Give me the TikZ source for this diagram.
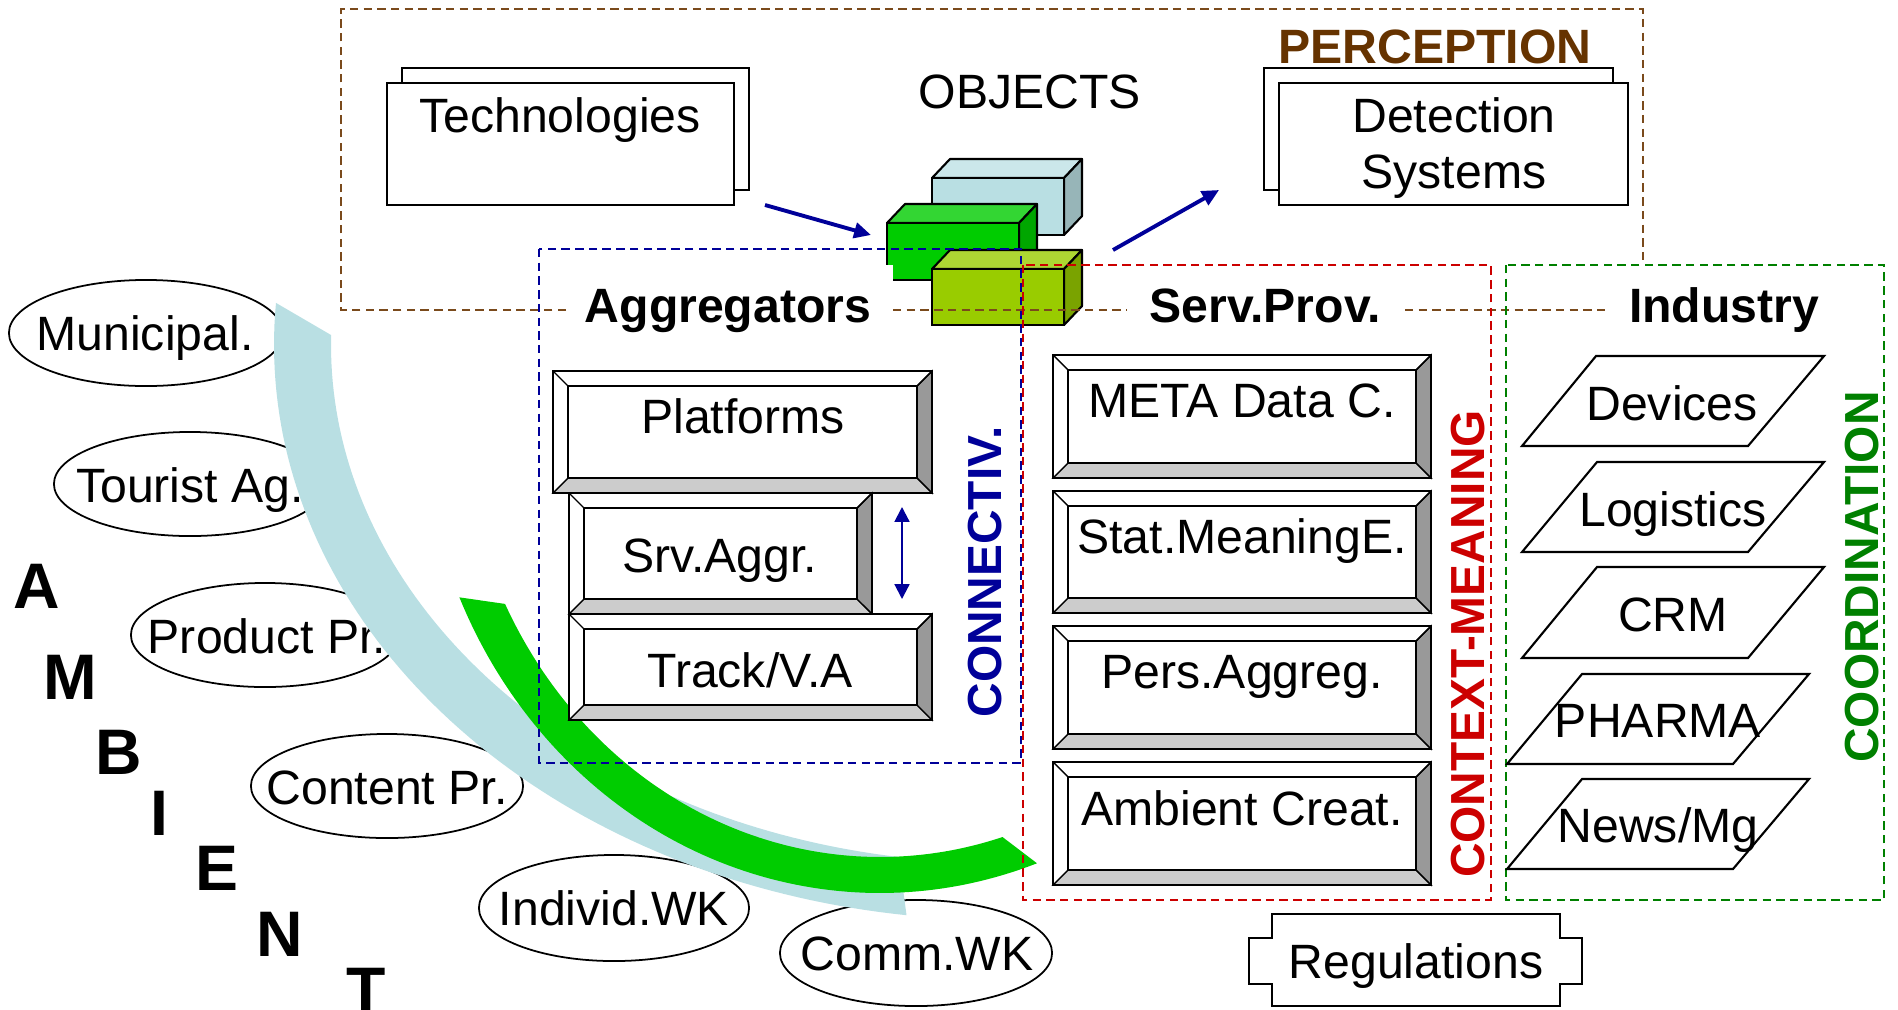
\documentclass[tikz,border=0pt]{standalone}
\usepackage{fontspec}
\setmainfont{Liberation Sans}
\usetikzlibrary{arrows.meta,shapes.geometric}
\definecolor{navy}{HTML}{000099}
\definecolor{brownc}{HTML}{663300}
\definecolor{brownd}{HTML}{7A4A1C}
\definecolor{redc}{HTML}{CC0000}
\definecolor{greenc}{HTML}{008000}
\definecolor{lblue}{HTML}{B9DFE3}
\definecolor{lbluetop}{HTML}{CBE7EA}
\definecolor{lblueside}{HTML}{97B5B8}
\definecolor{dgreen}{HTML}{00CC00}
\definecolor{dgreentop}{HTML}{33D633}
\definecolor{dgreenside}{HTML}{00A600}
\definecolor{lgreen}{HTML}{99CC00}
\definecolor{lgreentop}{HTML}{ADD633}
\definecolor{lgreenside}{HTML}{7AA300}
\definecolor{bevlight}{HTML}{CCCCCC}
\definecolor{bevdark}{HTML}{999999}

\newcommand\bevbox[4]{%
  \fill[white] (#1,#2) rectangle (#3,#4);
  \filldraw[fill=bevlight, line width=0.4pt] (#1,#4) -- (#3,#4) -- ({#3-15},{#4-15}) -- ({#1+15},{#4-15}) -- cycle;
  \filldraw[fill=bevdark, line width=0.4pt] (#3,#2) -- (#3,#4) -- ({#3-15},{#4-15}) -- ({#3-15},{#2+15}) -- cycle;
  \draw[line width=0.4pt] (#1,#2) -- ({#1+15},{#2+15}) (#3,#2) -- ({#3-15},{#2+15});
  \draw[line width=0.7pt] ({#1+15},{#2+15}) rectangle ({#3-15},{#4-15});
  \draw[line width=0.7pt] (#1,#2) rectangle (#3,#4);
}
\newcommand\cubebox[7]{%
  \filldraw[fill=#6, line width=0.6pt, line join=round] (#1,#2) -- ({#1+18},{#2-19}) -- ({#3+18},{#2-19}) -- (#3,#2) -- cycle;
  \filldraw[fill=#7, line width=0.6pt, line join=round] (#3,#2) -- ({#3+18},{#2-19}) -- ({#3+18},{#4-19}) -- (#3,#4) -- cycle;
  \filldraw[fill=#5, line width=0.6pt] (#1,#2) rectangle (#3,#4);
}

\tikzset{
  txt/.style={anchor=base, inner sep=0pt, font=\fontsize{13.7}{16}\selectfont},
  btxt/.style={anchor=base, inner sep=0pt, font=\fontsize{13.7}{16}\selectfont\bfseries},
  vtxt/.style={rotate=90, inner sep=0pt, font=\fontsize{13.6}{16}\selectfont\bfseries},
  bigl/.style={anchor=base, inner sep=0pt, font=\fontsize{18.3}{20}\selectfont\bfseries},
  ell/.style={draw, ellipse, inner sep=0pt, line width=0.5pt, fill=white},
  dbox/.style={dash pattern=on 2.4pt off 1.5pt, line width=0.6pt},
  arr/.style={navy, line width=1.1pt, -{Triangle[length=4.8pt,width=4.4pt]}},
  darr/.style={navy, line width=0.6pt, {Triangle[length=4.2pt,width=4.2pt]}-{Triangle[length=4.2pt,width=4.2pt]}},
  para/.style={line width=0.6pt, fill=white},
}

\begin{document}
\begin{tikzpicture}[x=0.01cm, y=-0.01cm]
\useasboundingbox (0,0) rectangle (1898,1009);

% ---------- ellipses (stakeholders) ----------
\node[ell, minimum width=2.74cm, minimum height=1.06cm] (mun) at (146,333) {};
\node[ell, minimum width=2.72cm, minimum height=1.04cm] (tou) at (190,484) {};
\node[ell, minimum width=2.68cm, minimum height=1.04cm] (pro) at (265,635) {};
\node[ell, minimum width=2.72cm, minimum height=1.04cm] (con) at (387,786) {};
\node[ell, minimum width=2.70cm, minimum height=1.06cm] (ind) at (614,908) {};
\node[ell, minimum width=2.72cm, minimum height=1.06cm] (com) at (916,953) {};
\node[txt] (munt) at (145,350) {Municipal.};
\node[txt] (tout) at (190,502) {Tourist Ag.};
\node[txt] (prot) at (267,653) {Product Pr.};
\node[txt] (cont) at (387,804) {Content Pr.};
\node[txt] (indt) at (614,925) {Individ.WK};
\node[txt] (comt) at (917,970) {Comm.WK};

% ---------- curved bands ----------
\fill[lblue] plot[domain=184.2:97.4, samples=80] ({1000+726*cos(\x)},{345+575*sin(\x)})
  -- plot[domain=98.7:181.1, samples=80] ({1000+669*cos(\x)},{345+518*sin(\x)}) -- cycle;
\fill[dgreen] plot[domain=156.4:70, samples=80] ({880+459*cos(\x)},{400+493*sin(\x)})
  -- plot[domain=73:153.5, samples=80] ({880+419*cos(\x)},{400+457*sin(\x)}) -- cycle;

% ---------- objects (cubes) ----------
\cubebox{932}{178}{1064}{235}{lblue}{lbluetop}{lblueside}
\cubebox{887}{223}{1019}{280}{dgreen}{dgreentop}{dgreenside}
\fill[white] (886,265) rectangle (893,281);
\cubebox{932}{269}{1064}{325}{lgreen}{lgreentop}{lgreenside}

% ---------- double boxes ----------
\draw[fill=white, line width=0.5pt] (402,68) rectangle (749,190);
\node[draw, fill=white, line width=0.7pt, inner sep=0pt, minimum width=3.47cm, minimum height=1.22cm] (tech) at (560.5,144) {};
\node[txt] (techt) at (560,132) {Technologies};
\draw[fill=white, line width=0.5pt] (1264,68) rectangle (1613,190);
\node[draw, fill=white, line width=0.7pt, inner sep=0pt, minimum width=3.49cm, minimum height=1.22cm] (det) at (1453.5,144) {};
\node[txt] (dett1) at (1454,132) {Detection};
\node[txt] (dett2) at (1454,188) {Systems};

% ---------- bevel boxes ----------
\bevbox{553}{371}{932}{493}
\node[txt] (plat) at (743,433) {Platforms};
\bevbox{569}{493}{872}{614}
\node[txt] (srv) at (720,572) {Srv.Aggr.};
\bevbox{569}{614}{932}{720}
\node[txt] (trk) at (750,687) {Track/V.A};

\bevbox{1053}{355}{1431}{478}
\node[txt] (meta) at (1242,417) {META Data C.};
\bevbox{1053}{491}{1431}{613}
\node[txt] (stat) at (1242,553) {Stat.MeaningE.};
\bevbox{1053}{626}{1431}{749}
\node[txt] (pers) at (1242,688) {Pers.Aggreg.};
\bevbox{1053}{762}{1431}{885}
\node[txt] (amb) at (1242,825) {Ambient Creat.};

% ---------- dashed regions ----------
\draw[dbox, brownd, line width=0.7pt] (566,310) -- (341,310) -- (341,9) -- (1643,9) -- (1643,262)
  (893,310) -- (1127,310) (1405,310) -- (1610,310);
\draw[dbox, navy] (539,249) rectangle (1021,763);
\draw[dbox, redc] (1023,265) rectangle (1491,900);
\draw[dbox, greenc] (1506,265) rectangle (1884,900);

% ---------- headings ----------
\node[txt] (obj) at (1030,108) {OBJECTS};
\node[btxt, text=brownc] (perc) at (1435,63) {PERCEPTION};
\node[btxt] (aggr) at (728,322) {Aggregators};
\node[btxt] (serv) at (1265,322) {Serv.Prov.};
\node[btxt] (indu) at (1724,322) {Industry};

\node[vtxt, text=navy] (conn) at (985,572) {CONNECTIV.};
\node[vtxt, text=redc] (ctx) at (1468,644) {CONTEXT-MEANING};
\node[vtxt, text=greenc] (coord) at (1862,577) {COORDINATION};

% ---------- arrows ----------
\coordinate (a1s) at (765,205);
\coordinate (a1e) at (871,235);
\coordinate (a2s) at (1113,250);
\coordinate (a2e) at (1219,190);
\coordinate (d1) at (902,507);
\coordinate (d2) at (902,599);
\draw[arr] (a1s) -- (a1e);
\draw[arr] (a2s) -- (a2e);
\draw[darr] (d1) -- (d2);

% ---------- industry parallelograms ----------
\draw[para] (1522,446) -- (1748,446) -- (1824,356) -- (1596,356) -- cycle;
\node[txt] (dev) at (1672,420) {Devices};
\draw[para] (1522,552) -- (1748,552) -- (1824,462) -- (1597,462) -- cycle;
\node[txt] (log) at (1673,526) {Logistics};
\draw[para] (1522,658) -- (1748,658) -- (1824,567) -- (1597,567) -- cycle;
\node[txt] (crm) at (1673,631) {CRM};
\draw[para] (1507,764) -- (1733,764) -- (1809,674) -- (1582,674) -- cycle;
\node[txt] (pha) at (1658,737) {PHARMA};
\draw[para] (1507,869) -- (1733,869) -- (1809,779) -- (1582,779) -- cycle;
\node[txt] (news) at (1658,842) {News/Mg};

% ---------- regulations ----------
\draw[line width=0.6pt, fill=white] (1272,914) -- (1560,914) -- (1560,938) -- (1582,938) -- (1582,984)
  -- (1560,984) -- (1560,1006) -- (1272,1006) -- (1272,984) -- (1249,984) -- (1249,938) -- (1272,938) -- cycle;
\node[txt] (reg) at (1416,978) {Regulations};

% ---------- AMBIENT ----------
\node[bigl] (lA) at (37,608) {A};
\node[bigl] (lM) at (70,699) {M};
\node[bigl] (lB) at (119,774) {B};
\node[bigl] (lI) at (159,835) {I};
\node[bigl] (lE) at (217,890) {E};
\node[bigl] (lN) at (280,956) {N};
\node[bigl] (lT) at (366,1012) {T};
\end{tikzpicture}
\end{document}
